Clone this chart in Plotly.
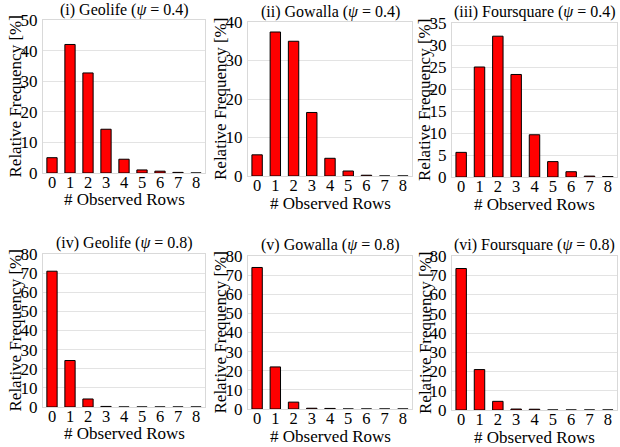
import plotly.graph_objects as go

categories = [0, 1, 2, 3, 4, 5, 6, 7, 8]
tick_labels = ["0", "1", "2", "3", "4", "5", "6", "7", "8"]

geolife_04 = [5.0, 42.0, 32.7, 14.3, 4.5, 1.0, 0.6, 0.2, 0.0]
gowalla_04 = [5.5, 37.4, 35.0, 16.5, 4.6, 1.3, 0.2, 0.0, 0.0]
foursquare_04 = [5.6, 25.0, 32.0, 23.3, 9.6, 3.5, 1.2, 0.2, 0.1]
geolife_08 = [71.0, 24.3, 4.2, 0.3, 0.0, 0.0, 0.0, 0.0, 0.0]
gowalla_08 = [74.0, 22.0, 3.6, 0.4, 0.3, 0.0, 0.0, 0.0, 0.0]
foursquare_08 = [73.5, 21.0, 4.5, 0.5, 0.4, 0.0, 0.0, 0.0, 0.0]

titles = [
    "(i) Geolife (<i>ψ</i> = 0.4)",
    "(ii) Gowalla (<i>ψ</i> = 0.4)",
    "(iii) Foursquare (<i>ψ</i> = 0.4)",
    "(iv) Geolife (<i>ψ</i> = 0.8)",
    "(v) Gowalla (<i>ψ</i> = 0.8)",
    "(vi) Foursquare (<i>ψ</i> = 0.8)",
]
series = [geolife_04, gowalla_04, foursquare_04, geolife_08, gowalla_08, foursquare_08]
y_max = [50, 40, 35, 80, 80, 80]
y_dtick = [10, 10, 5, 10, 10, 10]

W, H = 620, 447
# plot-area boxes in pixels: (left, right, top, bottom)
boxes = [
    (43, 205, 20, 173),
    (248, 412, 22, 176),
    (452, 617, 23, 177),
    (43, 205, 254, 407),
    (248, 412, 256, 409),
    (452, 617, 256, 410),
]
ytitle_x = [15, 220, 424, 15, 220, 425]
xtitle_y = [199, 203, 204, 433, 436, 437]
title_y = [10, 12, 12, 243, 245, 245]

FONT = "Liberation Serif"
fig = go.Figure()
annotations = []
for i, (vals, box) in enumerate(zip(series, boxes)):
    l, r, t, b = box
    xa = "x" if i == 0 else f"x{i+1}"
    ya = "y" if i == 0 else f"y{i+1}"
    fig.add_trace(go.Bar(
        x=categories, y=vals, xaxis=xa, yaxis=ya,
        marker=dict(color="#ff0000", line=dict(color="black", width=1)),
        width=0.57, showlegend=False, hoverinfo="skip",
    ))
    xkey = "xaxis" if i == 0 else f"xaxis{i+1}"
    ykey = "yaxis" if i == 0 else f"yaxis{i+1}"
    fig.layout[xkey] = dict(
        domain=[l / W, r / W], anchor=ya, range=[-0.5, 8.5], automargin=False,
        tickvals=categories, ticktext=tick_labels, showgrid=False,
        showline=True, mirror=True, linecolor="#d9d9d9", linewidth=1,
        ticks="", ticklabelstandoff=-6,
        tickfont=dict(family=FONT, size=16.5, color="black"), zeroline=False,
    )
    fig.layout[ykey] = dict(
        domain=[1 - b / H, 1 - t / H], anchor=xa, range=[0, y_max[i]], automargin=False,
        dtick=y_dtick[i], showgrid=True, gridcolor="#e3e3e3", gridwidth=1,
        showline=True, mirror=True, linecolor="#d9d9d9", linewidth=1,
        ticks="", ticklabelstandoff=1,
        tickfont=dict(family=FONT, size=17, color="black"), zeroline=False,
    )
    cx = (l + r) / 2 / W
    annotations.append(dict(text=titles[i], x=cx, y=1 - title_y[i] / H, xref="paper", yref="paper",
                            xanchor="center", yanchor="middle", showarrow=False, borderpad=0,
                            font=dict(family=FONT, size=16, color="black")))
    annotations.append(dict(text="# Observed Rows", x=cx, y=1 - xtitle_y[i] / H, xref="paper", yref="paper",
                            xanchor="center", yanchor="middle", showarrow=False, borderpad=0,
                            font=dict(family=FONT, size=17, color="black")))
    annotations.append(dict(text="Relative Frequency [%]", x=ytitle_x[i] / W, y=1 - (t + b) / 2 / H,
                            xref="paper", yref="paper", xanchor="center", yanchor="middle",
                            textangle=-90, showarrow=False, borderpad=0,
                            font=dict(family=FONT, size=17, color="black")))

fig.update_layout(
    template="none",
    width=W, height=H, margin=dict(l=0, r=0, t=0, b=0, pad=0, autoexpand=False),
    paper_bgcolor="white", plot_bgcolor="white",
    annotations=annotations, bargap=0.4, showlegend=False,
)
fig.write_html("out.html", config={"displayModeBar": False},
               post_script="document.body.style.margin='0';")
